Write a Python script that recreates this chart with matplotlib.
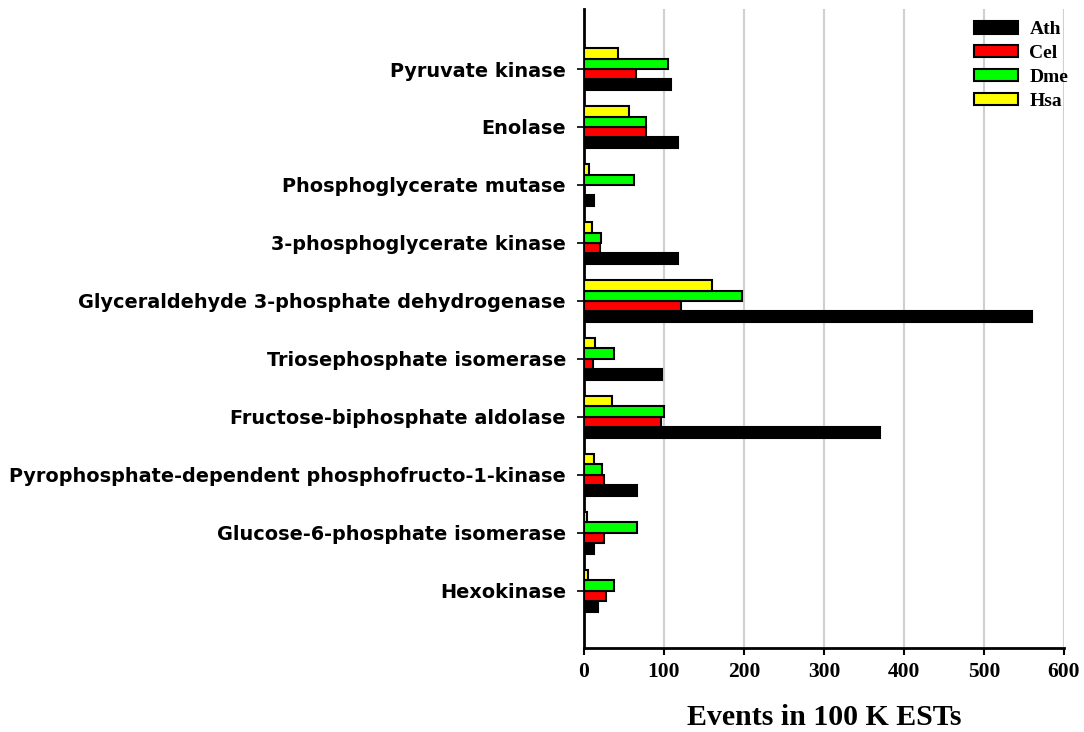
import matplotlib
matplotlib.use("Agg")
import matplotlib.pyplot as plt
import numpy as np

# Glycolytic enzymes, listed bottom to top as drawn on the y axis
enzymes = [
    "Hexokinase",
    "Glucose-6-phosphate isomerase",
    "Pyrophosphate-dependent phosphofructo-1-kinase",
    "Fructose-biphosphate aldolase",
    "Triosephosphate isomerase",
    "Glyceraldehyde 3-phosphate dehydrogenase",
    "3-phosphoglycerate kinase",
    "Phosphoglycerate mutase",
    "Enolase",
    "Pyruvate kinase",
]

# Events per 100 K ESTs for each species
ath = [17, 13, 66, 370, 98, 560, 117, 12, 118, 109]
cel = [28, 25, 25, 96, 11, 121, 20, 0, 77, 65]
dme = [38, 66, 23, 100, 37, 198, 21, 62, 78, 105]
hsa = [5, 4, 13, 35, 14, 160, 10, 6, 56, 42]

species = ["Ath", "Cel", "Dme", "Hsa"]
series = [ath, cel, dme, hsa]
colors = ["#000000", "#ff0000", "#00ff00", "#ffff00"]

xticks = [0, 100, 200, 300, 400, 500, 600]

fig = plt.figure(figsize=(10.84, 7.32), dpi=100)
ax = fig.add_axes([0.5387, 0.1148, 0.4428, 0.8729])

y = np.arange(len(enzymes))
h = 0.18
offsets = [-1.5, -0.5, 0.5, 1.5]
for vals, col, name, off in zip(series, colors, species, offsets):
    ax.barh(y + off * h, vals, height=h, color=col, edgecolor="black",
            linewidth=1.5, label=name, zorder=3)

ax.set_xlim(0, 600)
ax.set_ylim(-0.985, 10.035)
ax.set_xticks(xticks)
ax.set_xticklabels([str(t) for t in xticks], fontfamily="Liberation Serif",
                   fontweight="bold", fontsize=15.5)
ax.set_yticks(y)
ax.set_yticklabels(enzymes, fontfamily="DejaVu Sans", fontweight="bold",
                   fontsize=13.85)
ax.tick_params(axis="y", length=5, width=1.2, pad=8)
ax.tick_params(axis="x", length=5, width=1.5, pad=5)

ax.grid(axis="x", color="#d0d0d0", linewidth=1.5, zorder=0)
ax.set_axisbelow(True)
for side in ("top", "right"):
    ax.spines[side].set_visible(False)
for side in ("left", "bottom"):
    ax.spines[side].set_linewidth(2)
    ax.spines[side].set_color("black")

ax.set_xlabel("Events in 100 K ESTs", fontfamily="Liberation Serif",
              fontweight="bold", fontsize=21.5, labelpad=16)

handles, labels = ax.get_legend_handles_labels()
fig.legend(handles, labels, loc="upper right",
           bbox_to_anchor=(1076 / 1084, 1 - 13.5 / 732),
           bbox_transform=fig.transFigure, borderaxespad=0,
           frameon=False, prop={"family": "Liberation Serif", "weight": "bold",
                                "size": 14},
           handlelength=2.27, handleheight=0.6, labelspacing=0.35,
           handletextpad=0.57)

fig.savefig("out.png", dpi=100)
